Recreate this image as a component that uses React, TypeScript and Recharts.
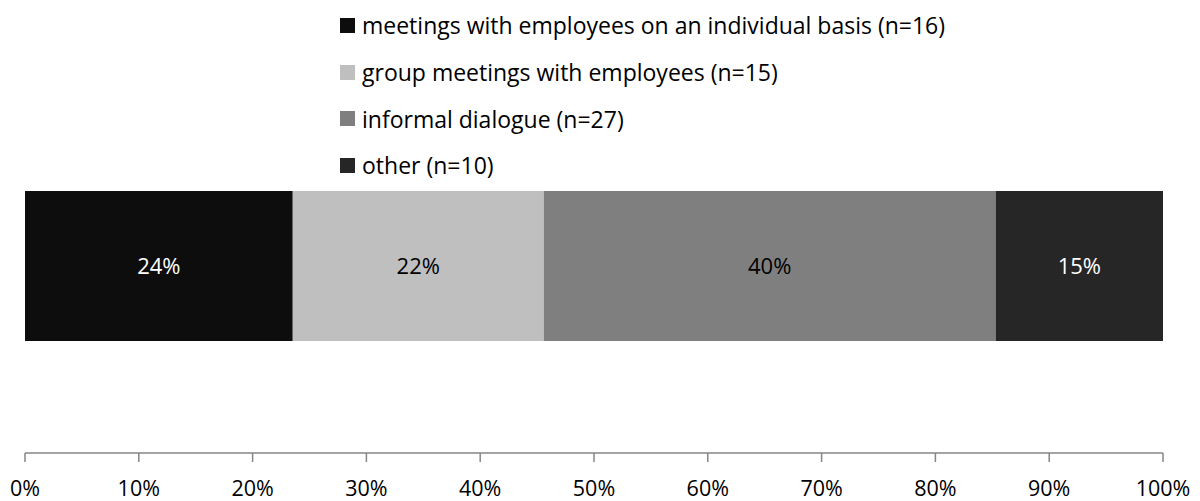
import { BarChart, Bar, XAxis, YAxis, Legend, LabelList } from "recharts";

const categories = [
  "meetings with employees on an individual basis",
  "group meetings with employees",
  "informal dialogue",
  "other",
];
const counts = [16, 15, 27, 10];
const colors = ["#0d0d0d", "#bfbfbf", "#7f7f7f", "#262626"];
const labelColors = ["#ffffff", "#000000", "#000000", "#ffffff"];
const xTicks = [0, 0.1, 0.2, 0.3, 0.4, 0.5, 0.6, 0.7, 0.8, 0.9, 1];

const total = counts.reduce((a, b) => a + b, 0);
const keys = categories.map((_, i) => `s${i}`);
const row: Record<string, string | number> = { name: "all" };
keys.forEach((k, i) => {
  row[k] = counts[i];
});
const data = [row];

const FONT = "'Open Sans', sans-serif";

function LegendRows() {
  return (
    <div style={{ fontFamily: FONT, fontSize: 23, color: "#000" }}>
      {categories.map((c, i) => (
        <div
          key={c}
          style={{
            height: 46.7,
            display: "flex",
            alignItems: "center",
            whiteSpace: "nowrap",
          }}
        >
          <span
            style={{
              display: "inline-block",
              width: 15,
              height: 15,
              background: colors[i],
              marginRight: 7,
            }}
          />
          <span>
            {c} (n={counts[i]})
          </span>
        </div>
      ))}
    </div>
  );
}

export default function App() {
  return (
    <div
      style={{
        position: "absolute",
        left: 0,
        top: 0,
        width: 1200,
        height: 501,
        background: "#fff",
        fontFamily: FONT,
      }}
    >
      <BarChart
        width={1200}
        height={501}
        data={data}
        layout="vertical"
        stackOffset="expand"
        barSize={150}
        margin={{ top: 79, right: 37, bottom: 0, left: 25 }}
      >
        <XAxis
          type="number"
          domain={[0, 1]}
          ticks={xTicks}
          interval={0}
          tickFormatter={(v: number) => `${Math.round(v * 100)}%`}
          height={48}
          tickSize={9}
          tickMargin={19}
          axisLine={{ stroke: "#868686", strokeWidth: 1.5 }}
          tickLine={{ stroke: "#868686", strokeWidth: 1.5 }}
          tick={{ fill: "#000", fontSize: 21.5, fontFamily: FONT }}
        />
        <YAxis type="category" dataKey="name" hide />
        <Legend
          layout="vertical"
          align="center"
          verticalAlign="middle"
          wrapperStyle={{ top: 2, left: 340, width: "auto" }}
          content={() => <LegendRows />}
        />
        {keys.map((k, i) => (
          <Bar
            key={k}
            dataKey={k}
            name={categories[i]}
            stackId="a"
            fill={colors[i]}
            isAnimationActive={false}
          >
            <LabelList
              dataKey={k}
              position="center"
              formatter={(v: number) => `${Math.round((v / total) * 100)}%`}
              style={{ fill: labelColors[i], fontSize: 22, fontFamily: FONT }}
            />
          </Bar>
        ))}
      </BarChart>
    </div>
  );
}
